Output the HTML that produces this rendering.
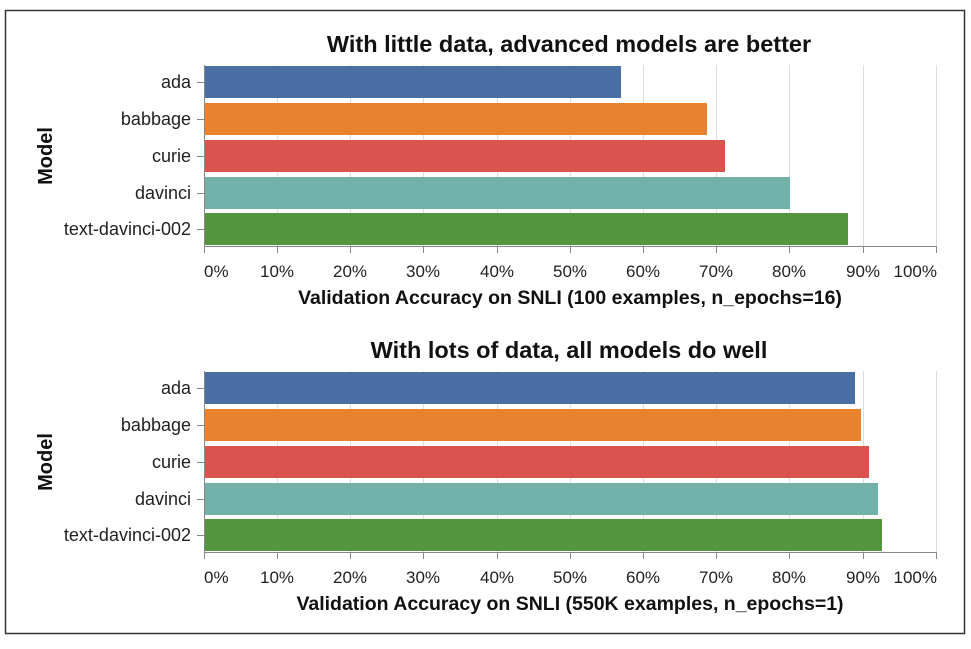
<!DOCTYPE html>
<html><head><style>body{margin:0;background:#fff}</style></head><body>
<svg width="971" height="644" xmlns="http://www.w3.org/2000/svg" font-family="Liberation Sans, sans-serif">
<rect x="0" y="0" width="971" height="644" fill="#fff"/>
<rect x="5.5" y="10.5" width="959" height="623" fill="none" stroke="#333" stroke-width="1.5"/>
<g id="c1">
<text x="569" y="52" text-anchor="middle" font-size="23.5" font-weight="bold" fill="#111">With little data, advanced models are better</text>
<g stroke="#ddd" stroke-width="1">
<line x1="277.5" y1="65" x2="277.5" y2="246"/><line x1="350.5" y1="65" x2="350.5" y2="246"/><line x1="423.5" y1="65" x2="423.5" y2="246"/><line x1="497.5" y1="65" x2="497.5" y2="246"/><line x1="570.5" y1="65" x2="570.5" y2="246"/><line x1="643.5" y1="65" x2="643.5" y2="246"/><line x1="716.5" y1="65" x2="716.5" y2="246"/><line x1="789.5" y1="65" x2="789.5" y2="246"/><line x1="863.5" y1="65" x2="863.5" y2="246"/><line x1="936.5" y1="65" x2="936.5" y2="246"/>
</g>
<rect x="204" y="66" width="417" height="32" fill="#4a6fa5"/>
<rect x="204" y="103" width="503" height="32" fill="#e8822e"/>
<rect x="204" y="140" width="521" height="32" fill="#d9534f"/>
<rect x="204" y="177" width="586" height="32" fill="#72b0aa"/>
<rect x="204" y="213" width="644" height="32" fill="#54953f"/>
<line x1="204" y1="246.5" x2="937" y2="246.5" stroke="#888"/>
<line x1="204.5" y1="65" x2="204.5" y2="253" stroke="#888"/>
<g stroke="#888"><line x1="277.5" y1="246" x2="277.5" y2="253"/><line x1="350.5" y1="246" x2="350.5" y2="253"/><line x1="423.5" y1="246" x2="423.5" y2="253"/><line x1="497.5" y1="246" x2="497.5" y2="253"/><line x1="570.5" y1="246" x2="570.5" y2="253"/><line x1="643.5" y1="246" x2="643.5" y2="253"/><line x1="716.5" y1="246" x2="716.5" y2="253"/><line x1="789.5" y1="246" x2="789.5" y2="253"/><line x1="863.5" y1="246" x2="863.5" y2="253"/><line x1="936.5" y1="246" x2="936.5" y2="253"/>
<line x1="197" y1="82.5" x2="204" y2="82.5"/><line x1="197" y1="119.5" x2="204" y2="119.5"/><line x1="197" y1="156.5" x2="204" y2="156.5"/><line x1="197" y1="193.5" x2="204" y2="193.5"/><line x1="197" y1="229.5" x2="204" y2="229.5"/></g>
<g font-size="18" fill="#222" text-anchor="end">
<text x="191" y="88">ada</text><text x="191" y="125">babbage</text><text x="191" y="162">curie</text><text x="191" y="199">davinci</text><text x="191" y="235">text-davinci-002</text></g>
<g font-size="17" fill="#222" text-anchor="middle">
<text x="204" y="277" text-anchor="start">0%</text><text x="277" y="277">10%</text><text x="350" y="277">20%</text><text x="423" y="277">30%</text><text x="497" y="277">40%</text><text x="570" y="277">50%</text><text x="643" y="277">60%</text><text x="716" y="277">70%</text><text x="789" y="277">80%</text><text x="863" y="277">90%</text><text x="937" y="277" text-anchor="end">100%</text></g>
<text x="570" y="304" text-anchor="middle" font-size="19.5" font-weight="bold" fill="#111">Validation Accuracy on SNLI (100 examples, n_epochs=16)</text>
<text transform="translate(52,156) rotate(-90)" text-anchor="middle" font-size="20" font-weight="bold" fill="#111">Model</text>
</g>
<g transform="translate(0,306)">
<text x="569" y="52" text-anchor="middle" font-size="23.5" font-weight="bold" fill="#111">With lots of data, all models do well</text>
<g stroke="#ddd" stroke-width="1">
<line x1="277.5" y1="65" x2="277.5" y2="246"/><line x1="350.5" y1="65" x2="350.5" y2="246"/><line x1="423.5" y1="65" x2="423.5" y2="246"/><line x1="497.5" y1="65" x2="497.5" y2="246"/><line x1="570.5" y1="65" x2="570.5" y2="246"/><line x1="643.5" y1="65" x2="643.5" y2="246"/><line x1="716.5" y1="65" x2="716.5" y2="246"/><line x1="789.5" y1="65" x2="789.5" y2="246"/><line x1="863.5" y1="65" x2="863.5" y2="246"/><line x1="936.5" y1="65" x2="936.5" y2="246"/>
</g>
<rect x="204" y="66" width="651" height="32" fill="#4a6fa5"/>
<rect x="204" y="103" width="657" height="32" fill="#e8822e"/>
<rect x="204" y="140" width="665" height="32" fill="#d9534f"/>
<rect x="204" y="177" width="674" height="32" fill="#72b0aa"/>
<rect x="204" y="213" width="678" height="32" fill="#54953f"/>
<line x1="204" y1="246.5" x2="937" y2="246.5" stroke="#888"/>
<line x1="204.5" y1="65" x2="204.5" y2="253" stroke="#888"/>
<g stroke="#888"><line x1="277.5" y1="246" x2="277.5" y2="253"/><line x1="350.5" y1="246" x2="350.5" y2="253"/><line x1="423.5" y1="246" x2="423.5" y2="253"/><line x1="497.5" y1="246" x2="497.5" y2="253"/><line x1="570.5" y1="246" x2="570.5" y2="253"/><line x1="643.5" y1="246" x2="643.5" y2="253"/><line x1="716.5" y1="246" x2="716.5" y2="253"/><line x1="789.5" y1="246" x2="789.5" y2="253"/><line x1="863.5" y1="246" x2="863.5" y2="253"/><line x1="936.5" y1="246" x2="936.5" y2="253"/>
<line x1="197" y1="82.5" x2="204" y2="82.5"/><line x1="197" y1="119.5" x2="204" y2="119.5"/><line x1="197" y1="156.5" x2="204" y2="156.5"/><line x1="197" y1="193.5" x2="204" y2="193.5"/><line x1="197" y1="229.5" x2="204" y2="229.5"/></g>
<g font-size="18" fill="#222" text-anchor="end">
<text x="191" y="88">ada</text><text x="191" y="125">babbage</text><text x="191" y="162">curie</text><text x="191" y="199">davinci</text><text x="191" y="235">text-davinci-002</text></g>
<g font-size="17" fill="#222" text-anchor="middle">
<text x="204" y="277" text-anchor="start">0%</text><text x="277" y="277">10%</text><text x="350" y="277">20%</text><text x="423" y="277">30%</text><text x="497" y="277">40%</text><text x="570" y="277">50%</text><text x="643" y="277">60%</text><text x="716" y="277">70%</text><text x="789" y="277">80%</text><text x="863" y="277">90%</text><text x="937" y="277" text-anchor="end">100%</text></g>
<text x="570" y="304" text-anchor="middle" font-size="19.5" font-weight="bold" fill="#111">Validation Accuracy on SNLI (550K examples, n_epochs=1)</text>
<text transform="translate(52,156) rotate(-90)" text-anchor="middle" font-size="20" font-weight="bold" fill="#111">Model</text>
</g>
</svg>
</body></html>
